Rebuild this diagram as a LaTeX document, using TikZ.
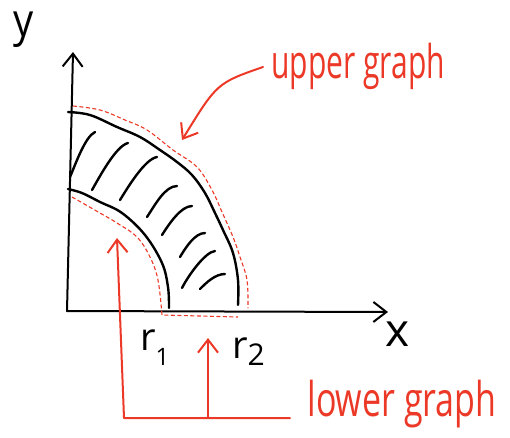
\documentclass[tikz,border=0pt]{standalone}
\usepackage{fontspec}
\setmainfont{Open Sans}
\usetikzlibrary{arrows.meta}
\definecolor{pen}{RGB}{236,56,38}
\tikzset{
  ink/.style={line width=2.4pt, black, line cap=round, line join=round},
  axisline/.style={line width=2pt, black, line cap=round},
  redline/.style={pen, line width=2pt, line cap=round, line join=round},
  reddash/.style={pen, line width=1.1pt, dash pattern=on 4pt off 2.5pt},
  myhead/.tip={Straight Barb[length=13pt,width=20pt,line width=2pt]},
  blab/.style={inner sep=0pt, text=black},
  rlab/.style={inner sep=0pt, text=pen},
}
\begin{document}
\begin{tikzpicture}[x=1pt,y=-1pt]
\useasboundingbox (0,0) rectangle (510,437);
% axes
\coordinate (O) at (67,311);
\coordinate (ytip) at (73,52);
\coordinate (xtip) at (388,312);
\draw[axisline,-{myhead}] (O) -- (ytip);
\draw[axisline,-{myhead}] (O) -- (xtip);
\node[blab,font=\fontsize{40}{40}\selectfont,yscale=1.15] (ylab) at (24,30) {y};
\node[blab,font=\fontsize{46}{46}\selectfont] (xlab) at (398,334) {x};
\node[blab,font=\fontsize{38}{38}\selectfont,anchor=base west] (r1) at (140,350) {r\raisebox{-0.4em}{\fontsize{24}{24}\selectfont 1}};
\node[blab,font=\fontsize{38}{38}\selectfont,anchor=base west] (r2) at (232,358) {r\raisebox{-0.2em}{\fontsize{30}{30}\selectfont 2}};
% outer and inner black arcs
\draw[ink] plot[smooth,tension=0.6] coordinates {(68,112) (90,115) (117,127) (140,137) (160,150) (177,162) (192,175) (205,193) (215,213) (223,230) (233,253) (238,280) (238,305)};
\draw[ink] plot[smooth,tension=0.6] coordinates {(68,189) (82,193) (100,202) (122,213) (145,235) (162,263) (168,287) (169,308)};
% hatching
\draw[ink] (95,132) .. controls +(-10,5) and +(6,-14) .. (70,177);
\draw[ink] (128,143) .. controls +(-12,3) and +(8,-14) .. (92,190);
\draw[ink] (157,157) .. controls +(-12,2) and +(8,-13) .. (120,200);
\draw[ink] (177,186) .. controls +(-12,0) and +(8,-12) .. (147,217);
\draw[ink] (192,206) .. controls +(-11,0) and +(7,-11) .. (162,235);
\draw[ink] (205,233) .. controls +(-10,0) and +(6,-10) .. (180,257);
\draw[ink] (215,251) .. controls +(-10,1) and +(6,-12) .. (182,288);
\draw[ink] (225,274) .. controls +(-10,0) and +(6,-6) .. (200,289);
% red dashed graphs
\draw[reddash] plot[smooth,tension=0.6] coordinates {(73,106) (100,110) (125,120) (147,130) (173,150) (197,167) (212,190) (222,212) (233,237) (240,257) (247,280) (248,308)};
\draw[reddash] plot[smooth,tension=0.6] coordinates {(72,197) (100,213) (117,223) (137,237) (150,257) (158,280) (162,315)} -- (238,317);
% upper graph label
\node[rlab,font=\fontsize{30}{30}\selectfont,yscale=1.55] (upper) at (358,66) {upper graph};
\coordinate (uA) at (263,67);
\coordinate (uB) at (182,140);
\draw[redline,-{myhead}] (uA) .. controls (217,83) .. (uB);
% lower graph label
\node[rlab,font=\fontsize{33}{33}\selectfont,yscale=1.45,xscale=1.03] (lower) at (402,404) {lower graph};
\coordinate (lL) at (124,418);
\coordinate (lR) at (290,418);
\coordinate (lM) at (208,418);
\coordinate (lTipA) at (117,238);
\coordinate (lTipB) at (208,338);
\draw[redline,-{myhead}] (lR) -- (lL) -- (lTipA);
\draw[redline,-{myhead}] (lM) -- (lTipB);
\end{tikzpicture}
\end{document}
